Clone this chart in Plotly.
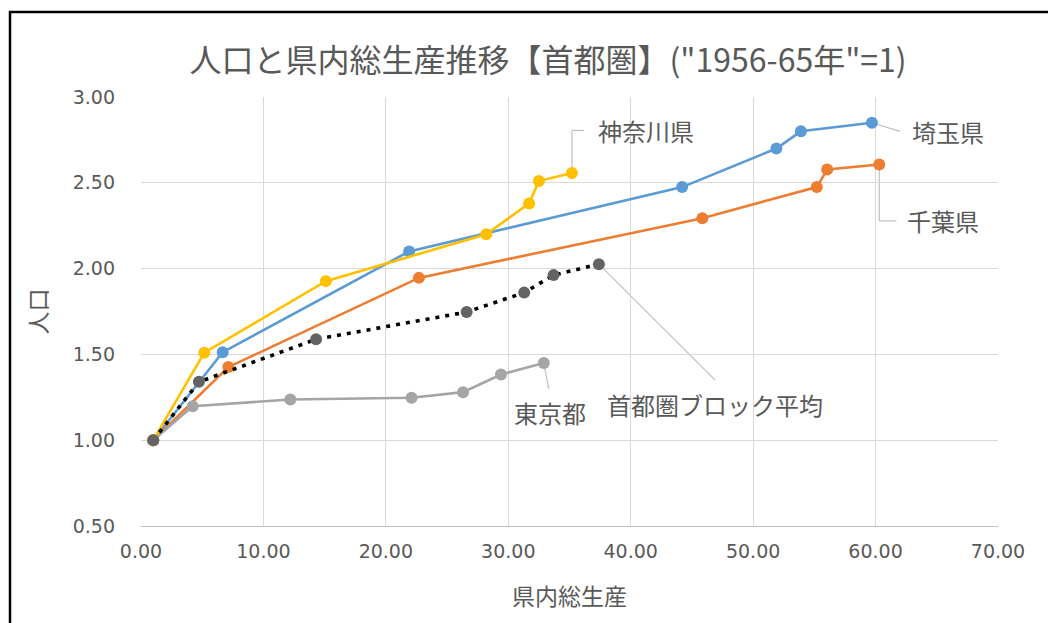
import plotly.graph_objects as go

# ---- data (x: 県内総生産 index, y: 人口 index; "1956-65年" = 1) ----
saitama_x = [1.0, 6.67, 21.9, 44.2, 51.9, 53.9, 59.7]
saitama_y = [1.0, 1.513, 2.10, 2.475, 2.70, 2.80, 2.85]

chiba_x = [1.0, 7.13, 22.7, 45.85, 55.2, 56.05, 60.3]
chiba_y = [1.0, 1.426, 1.946, 2.294, 2.475, 2.578, 2.607]

tokyo_x = [1.0, 4.22, 12.2, 22.1, 26.3, 29.4, 32.9]
tokyo_y = [1.0, 1.198, 1.237, 1.247, 1.28, 1.383, 1.45]

kanagawa_x = [1.0, 5.17, 15.1, 28.2, 31.7, 32.5, 35.2]
kanagawa_y = [1.0, 1.51, 1.927, 2.20, 2.38, 2.51, 2.557]

avg_x = [1.0, 4.73, 14.3, 26.6, 31.3, 33.7, 37.4]
avg_y = [1.0, 1.34, 1.588, 1.747, 1.86, 1.962, 2.026]

series_names = ["埼玉県", "千葉県", "東京都", "神奈川県", "首都圏ブロック平均"]

x_ticks = [0, 10, 20, 30, 40, 50, 60, 70]
y_ticks = [0.5, 1.0, 1.5, 2.0, 2.5, 3.0]

title_text = '人口と県内総生産推移【首都圏】("1956-65年"=1)'
x_title = "県内総生産"
y_title = "人口"

# ---- layout geometry ----
W, H = 1048, 623
ML, MR, MT, MB = 141, 50, 97, 97
PW, PH = W - ML - MR, H - MT - MB

def px_to_paper(px, py):
    return (px - ML) / PW, (H - MB - py) / PH

FONT = "Noto Sans CJK JP, Noto Sans, sans-serif"
TICKFONT = "DejaVu Sans, Noto Sans, sans-serif"
TXT = "#595959"
GRID = "#D9D9D9"
LEAD = "#BFBFBF"

fig = go.Figure()

def add_series(xs, ys, name, color, line_color=None, dash="solid", width=2.6):
    fig.add_trace(go.Scatter(
        x=xs, y=ys, name=name, mode="lines+markers",
        line=dict(color=line_color or color, width=width, dash=dash),
        marker=dict(color=color, size=12, line=dict(width=0)),
        showlegend=False,
    ))

add_series(saitama_x, saitama_y, series_names[0], "#5B9BD5")
add_series(chiba_x, chiba_y, series_names[1], "#ED7D31")
add_series(tokyo_x, tokyo_y, series_names[2], "#A5A5A5")
add_series(kanagawa_x, kanagawa_y, series_names[3], "#FFC000")
add_series(avg_x, avg_y, series_names[4], "#636363", line_color="#000000",
           dash="4px,6px", width=3.6)

# ---- data labels with leader lines (positions in data units) ----
labels = [
    (series_names[3], 37.2, 2.805, "left",
     [(kanagawa_x[-1], kanagawa_y[-1]), (kanagawa_x[-1], 2.805), (36.2, 2.805)]),
    (series_names[0], 62.8, 2.80, "left",
     [(saitama_x[-1], saitama_y[-1]), (62.0, 2.80)]),
    (series_names[1], 62.4, 2.278, "left",
     [(chiba_x[-1], chiba_y[-1]), (chiba_x[-1], 2.278), (61.7, 2.278)]),
    (series_names[2], 33.4, 1.16, "center",
     [(tokyo_x[-1], tokyo_y[-1]), (33.3, 1.30)]),
    (series_names[4], 46.9, 1.21, "center",
     [(avg_x[-1], avg_y[-1]), (46.9, 1.35)]),
]

for text, tx, ty, xa, path in labels:
    for (x0, y0), (x1, y1) in zip(path[:-1], path[1:]):
        fig.add_shape(type="line", xref="x", yref="y", x0=x0, y0=y0, x1=x1, y1=y1,
                      line=dict(color=LEAD, width=1.2), layer="below")
    fig.add_annotation(x=tx, y=ty, xref="x", yref="y", text=text, showarrow=False,
                       xanchor=xa, yanchor="middle",
                       font=dict(family=FONT, size=24, color=TXT))

# ---- outer border (top & left visible, chart crop) ----
bx0, by0 = px_to_paper(10, 12)
bx1, by1 = px_to_paper(W + 20, H + 20)
fig.add_shape(type="rect", xref="paper", yref="paper", x0=bx0, y0=by1, x1=bx1, y1=by0,
              line=dict(color="#000000", width=2.5), fillcolor="rgba(0,0,0,0)", layer="above")

fig.update_layout(
    width=W, height=H,
    margin=dict(l=ML, r=MR, t=MT, b=MB, autoexpand=False),
    paper_bgcolor="white", plot_bgcolor="white",
    font=dict(family=FONT, color=TXT),
    title=dict(text=title_text, x=0.523, xanchor="center", y=1 - 61 / H, yanchor="middle",
               font=dict(family=FONT, size=32, color=TXT)),
    hovermode=False,
)

fig.update_xaxes(
    range=[0, 70], tickvals=x_ticks, tickformat=".2f",
    showgrid=True, gridcolor=GRID, gridwidth=1,
    zeroline=False, showline=True, linecolor="#BFBFBF", linewidth=1, mirror=False,
    ticks="", tickfont=dict(family=TICKFONT, size=19, color=TXT), ticklabelstandoff=8,
    title=dict(text=x_title, font=dict(family=FONT, size=23, color=TXT), standoff=28),
)
fig.update_yaxes(
    range=[0.5, 3.0], tickvals=y_ticks, tickformat=".2f",
    showgrid=True, gridcolor=GRID, gridwidth=1,
    zeroline=False, showline=False,
    ticks="", tickfont=dict(family=TICKFONT, size=19, color=TXT), ticklabelstandoff=25,
    title=dict(text=y_title, font=dict(family=FONT, size=23, color=TXT), standoff=18),
)

fig.write_html("out.html")
